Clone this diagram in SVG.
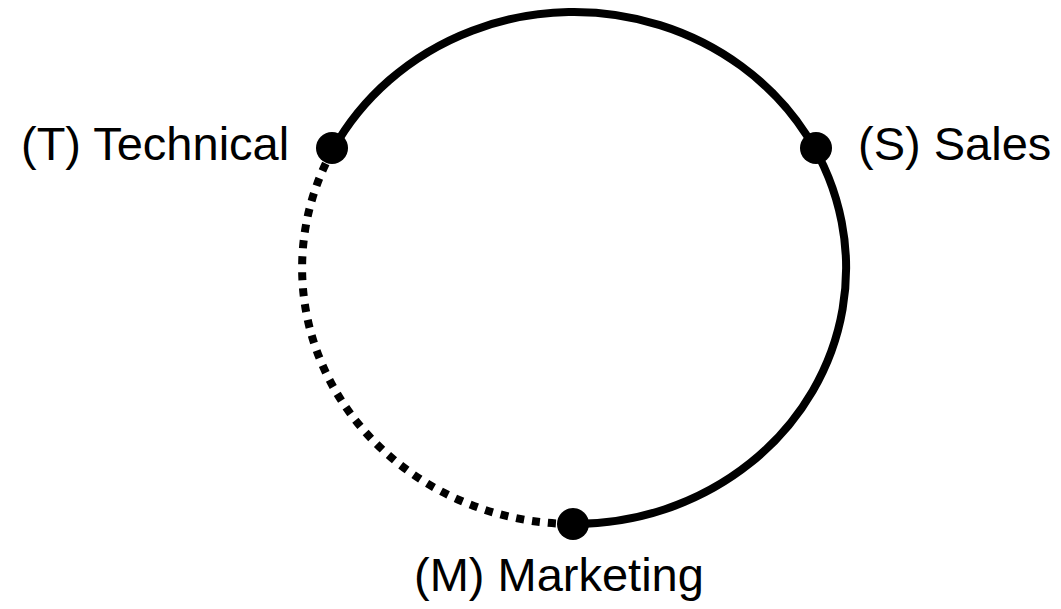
<svg xmlns="http://www.w3.org/2000/svg" width="1061" height="609" viewBox="0 0 1061 609">
<style>
.arc{fill:none;stroke:#000;stroke-width:8}
.dash{stroke-dasharray:8 8}
.node{fill:#000}
.lbl{font-family:"Liberation Sans",Arial,sans-serif;font-size:47px;fill:#000}
</style>
<rect width="1061" height="609" fill="#fff"/>
<g id="connectors">
<path class="arc dash" d="M333 149.5 A272 256 0 0 0 574 524"/>
<path class="arc" d="M333 149.5 A272 256 0 1 1 574 524"/>
</g>
<g id="node-T">
<circle class="node" cx="332" cy="148" r="16"/>
<text class="lbl" x="21" y="160">(T) Technical</text>
</g>
<g id="node-S">
<circle class="node" cx="816" cy="148" r="16"/>
<text class="lbl" x="858" y="160">(S) Sales</text>
</g>
<g id="node-M">
<circle class="node" cx="573" cy="524" r="16"/>
<text class="lbl" x="414" y="591">(M) Marketing</text>
</g>
</svg>
